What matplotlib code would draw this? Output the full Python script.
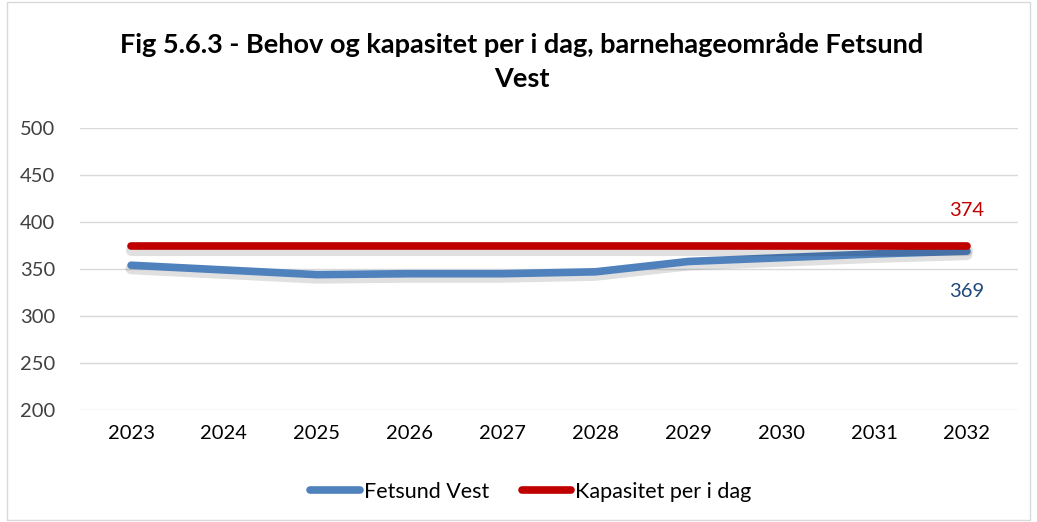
import matplotlib
matplotlib.use("Agg")
import matplotlib.pyplot as plt
import matplotlib.patheffects as pe
from matplotlib.patches import Rectangle
from matplotlib.lines import Line2D

years = ["2023", "2024", "2025", "2026", "2027", "2028", "2029", "2030", "2031", "2032"]
fetsund_vest = [354, 349, 344, 345, 345, 347, 358, 362, 366, 369]
kapasitet = [374] * 10

plt.rcParams['font.family'] = ['Lato', 'DejaVu Sans']

fig = plt.figure(figsize=(10.37, 5.22), dpi=100)
ax = fig.add_axes([80/1037, (522-410)/522, (1018-80)/1037, (410-128)/522])

x = list(range(len(years)))
shadow = [pe.SimpleLineShadow(offset=(0, -2.5), shadow_color='black', alpha=0.12, linewidth=8), pe.Normal()]
ax.plot(x, fetsund_vest, color='#4F81BD', lw=5.5, solid_capstyle='round', path_effects=shadow)
ax.plot(x, kapasitet, color='#C00000', lw=5.5, solid_capstyle='round', path_effects=shadow)

ax.set_xlim(-0.55, 9.55)
ax.set_ylim(200, 500)
ax.set_yticks(range(200, 501, 50))
ax.set_xticks(x)
ax.set_xticklabels(years)
ax.grid(axis='y', color='#D9D9D9', lw=1)
ax.set_axisbelow(True)
for s in ax.spines.values():
    s.set_visible(False)
ax.tick_params(length=0, labelsize=14.5, colors='#404040')
ax.tick_params(axis='x', pad=11, labelcolor='black')
ax.tick_params(axis='y', pad=18)

ax.annotate(str(kapasitet[-1]), (9, kapasitet[-1]), xytext=(0, 26), textcoords='offset points',
            ha='center', va='center', color='#C00000', fontsize=14.5)
ax.annotate(str(fetsund_vest[-1]), (9, fetsund_vest[-1]), xytext=(0, -29), textcoords='offset points',
            ha='center', va='center', color='#1F497D', fontsize=14.5)

fig.text(522/1037, 1 - 62/522, "Fig 5.6.3 - Behov og kapasitet per i dag, barnehageområde Fetsund\nVest",
         ha='center', va='center', fontsize=19.5, fontweight='bold', linespacing=1.5)

handles = [Line2D([], [], color='#4F81BD', lw=5.5, solid_capstyle='round'),
           Line2D([], [], color='#C00000', lw=5.5, solid_capstyle='round')]
fig.legend(handles, ['Fetsund Vest', 'Kapasitet per i dag'], loc='center',
           bbox_to_anchor=(531/1037, 1 - 492/522), ncol=2, frameon=False,
           fontsize=15.5, handlelength=2.3, handletextpad=0.2, columnspacing=1.5)

fig.patches.append(Rectangle((7/1037, 2/522), 1023/1037, 518/522, transform=fig.transFigure,
                             fill=False, edgecolor='#D9D9D9', lw=1))

fig.savefig("out.png", dpi=100, facecolor='white')
